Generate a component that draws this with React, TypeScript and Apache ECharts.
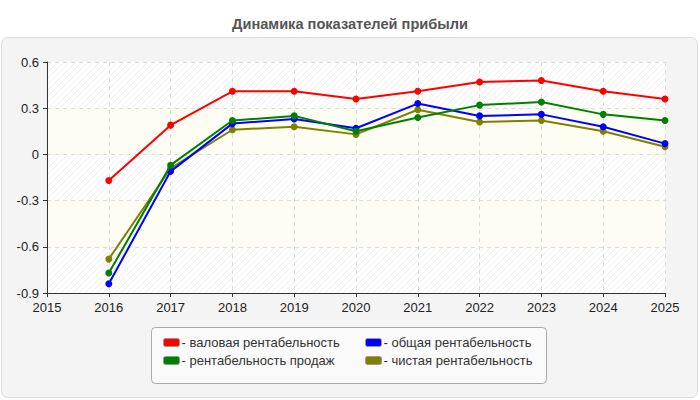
import React, { useEffect, useRef } from "react";
import * as echarts from "echarts";

// Profitability indicators by year
const years = [2016, 2017, 2018, 2019, 2020, 2021, 2022, 2023, 2024, 2025];
const grossMargin = [-0.17, 0.19, 0.41, 0.41, 0.36, 0.41, 0.47, 0.48, 0.41, 0.36];
const salesMargin = [-0.77, -0.07, 0.22, 0.25, 0.15, 0.24, 0.32, 0.34, 0.26, 0.22];
const totalMargin = [-0.84, -0.11, 0.2, 0.23, 0.17, 0.33, 0.25, 0.26, 0.18, 0.07];
const netMargin = [-0.68, -0.09, 0.16, 0.18, 0.13, 0.29, 0.21, 0.22, 0.15, 0.05];

const seriesNames = [
  "валовая рентабельность",
  "рентабельность продаж",
  "общая рентабельность",
  "чистая рентабельность",
];
const seriesColors = ["#ff0000", "#008000", "#0000ff", "#808000"];
const seriesValues = [grossMargin, salesMargin, totalMargin, netMargin];

const xTicks = { min: 2015, max: 2025, interval: 1 };
const yTicks = { min: -0.9, max: 0.6, interval: 0.3 };

const FONT = "Arial, 'Liberation Sans', sans-serif";

const hatchSvg =
  "<svg xmlns='http://www.w3.org/2000/svg' width='6' height='6'>" +
  "<rect width='6' height='6' fill='#ffffff'/>" +
  "<path d='M0 6 L6 0 M-1 1 L1 -1 M5 7 L7 5' stroke='#efefef' stroke-width='1'/>" +
  "</svg>";
const hatchUrl = "data:image/svg+xml;charset=utf-8," + encodeURIComponent(hatchSvg);

export default function App() {
  const ref = useRef<HTMLDivElement>(null);

  useEffect(() => {
    if (!ref.current) return;
    const chart = echarts.init(ref.current, undefined, { renderer: "svg" });

    const series = seriesNames.map((name, i) => ({
      name,
      type: "line",
      data: years.map((y, j) => [y, seriesValues[i][j]]),
      symbol: "circle",
      symbolSize: 7,
      lineStyle: { color: seriesColors[i], width: 2 },
      itemStyle: { color: seriesColors[i] },
      z: 10 - i,
    }));

    const legendCommon = {
      orient: "vertical" as const,
      top: 336,
      itemWidth: 16,
      itemHeight: 8,
      itemGap: 5,
      icon: "roundRect",
      padding: 0,
      formatter: "- {name}",
      itemStyle: { borderColor: "#999", borderWidth: 1 },
      textStyle: { fontSize: 13, color: "#333", fontFamily: FONT, padding: [0, 0, 0, -3] },
      selectedMode: false,
    };

    chart.setOption({
      animation: false,
      backgroundColor: "#ffffff",
      title: {
        text: "Динамика показателей прибыли",
        left: "center",
        top: 11,
        textStyle: { fontSize: 14.6, fontWeight: "bold", color: "#555", fontFamily: FONT },
      },
      graphic: [
        {
          type: "rect",
          shape: { x: 1.5, y: 37.5, width: 696, height: 360, r: 6 },
          style: { fill: "#f4f4f4", stroke: "#dddddd", lineWidth: 1 },
          z: -10,
          silent: true,
        },
        {
          type: "rect",
          shape: { x: 151.5, y: 327.5, width: 395, height: 56, r: 4 },
          style: { fill: "#fafafa", stroke: "#aaaaaa", lineWidth: 1 },
          z: -5,
          silent: true,
        },
      ],
      grid: {
        left: 47,
        right: 35,
        top: 62,
        bottom: 107,
        show: true,
        backgroundColor: { image: hatchUrl, repeat: "repeat" },
        borderWidth: 0,
      },
      xAxis: {
        type: "value",
        ...xTicks,
        axisLine: { show: true, onZero: false, lineStyle: { color: "#333", width: 1 } },
        axisTick: { show: true, length: 4, lineStyle: { color: "#333" } },
        axisLabel: {
          color: "#222",
          fontSize: 13,
          fontFamily: FONT,
          margin: 8,
          formatter: (v: number) => String(v),
        },
        splitLine: { show: true, lineStyle: { color: "#dcdcdc", type: [4, 4] } },
      },
      yAxis: {
        type: "value",
        ...yTicks,
        axisLine: { show: true, lineStyle: { color: "#333", width: 1 } },
        axisTick: { show: true, length: 4, lineStyle: { color: "#333" } },
        axisLabel: {
          color: "#222",
          fontSize: 13,
          fontFamily: FONT,
          margin: 8,
          formatter: (v: number) => String(Math.round(v * 10) / 10),
        },
        splitLine: { show: true, lineStyle: { color: "#dcdcdc", type: [4, 4] } },
        splitArea: {
          show: true,
          areaStyle: { color: ["rgba(255,255,255,0)", "rgba(253,253,243,0.9)"] },
        },
      },
      legend: [
        { ...legendCommon, left: 163, data: [seriesNames[0], seriesNames[1]] },
        { ...legendCommon, left: 365, data: [seriesNames[2], seriesNames[3]] },
      ],
      series,
    });

    return () => chart.dispose();
  }, []);

  return <div ref={ref} style={{ width: 700, height: 400, position: "absolute", left: 0, top: 0 }} />;
}
